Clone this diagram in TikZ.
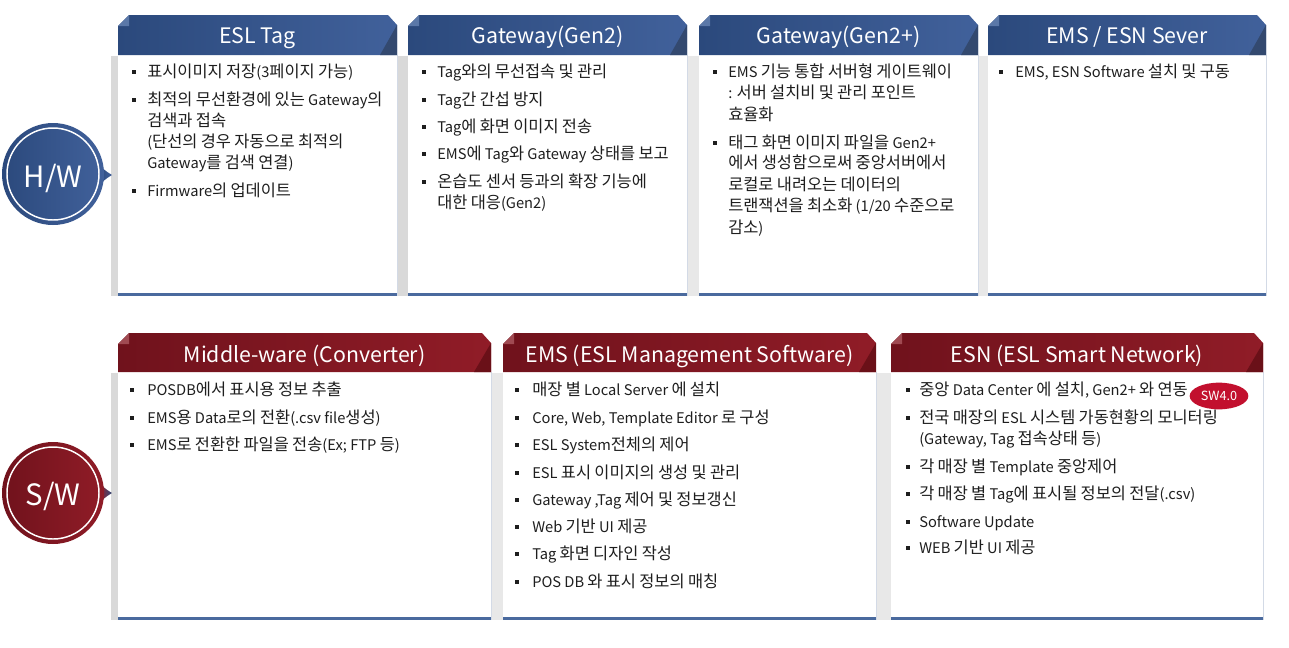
\documentclass[tikz,border=0pt]{standalone}
\usepackage{fontspec}
\setmainfont{Noto Sans CJK KR}
\newfontfamily\hangulfont{Noto Sans CJK KR}[Scale=1.12]
\usetikzlibrary{shapes.geometric}

% wider Hangul, as in the reference
\XeTeXinterchartokenstate=1
\newXeTeXintercharclass\HangulClass
\count255="AC00
\loop
  \XeTeXcharclass\count255=\HangulClass
  \ifnum\count255<"D7A3 \advance\count255 by 1
\repeat
\XeTeXinterchartoks 0 \HangulClass = {\begingroup\hangulfont}
\XeTeXinterchartoks 4095 \HangulClass = {\begingroup\hangulfont}
\XeTeXinterchartoks \HangulClass 0 = {\endgroup}
\XeTeXinterchartoks \HangulClass 4095 = {\endgroup}

\definecolor{blueL}{HTML}{2B497C}
\definecolor{blueR}{HTML}{41619B}
\definecolor{blueD}{HTML}{33496F}
\definecolor{blueC}{HTML}{5B78A8}
\definecolor{redL}{HTML}{70121C}
\definecolor{redR}{HTML}{901C27}
\definecolor{redD}{HTML}{6A1018}
\definecolor{redC}{HTML}{A04A52}
\definecolor{lineblue}{HTML}{4A6A9E}
\definecolor{stripA}{HTML}{D9D9D9}
\definecolor{stripB}{HTML}{E8E8E8}
\definecolor{edgec}{HTML}{D3DAE6}
\definecolor{badgec}{HTML}{C2102E}
\definecolor{txtc}{HTML}{1E1E1E}

\tikzset{
  bulsq/.style={rectangle, fill=txtc, inner sep=0pt, minimum size=3.6pt},
  txt/.style={anchor=base west, inner sep=0pt, text=txtc, font=\fontsize{11pt}{13pt}\selectfont},
  hdrtxt/.style={anchor=base, inner sep=0pt, text=white, font=\fontsize{16pt}{18pt}\selectfont},
  circtxt/.style={anchor=base, inner sep=0pt, text=white, font=\fontsize{22pt}{24pt}\selectfont},
  bigcirc/.style={circle, inner sep=0pt, minimum size=76.5pt},
  badge/.style={ellipse, fill=badgec, inner sep=0pt, minimum width=44pt, minimum height=20pt, text=white, font=\fontsize{9.5pt}{11pt}\selectfont},
}

% panel: name, x1, y1(header top), x2, y2(header bottom), yb(body bottom), scheme, title, title baseline
\newcommand\panelbox[9]{%
  \fill[white] (#2,#5) rectangle (#4,#6);
  \draw[edgec, line width=0.6pt] (#4,#5) -- (#4,#6);
  \fill[lineblue] (#2,#6-3.5) rectangle (#4,#6);
  \shade[left color=#7L, right color=#7R] (#2,#3+11) -- (#2+11,#3) -- (#4-9,#3) -- (#4,#3+10) -- (#4,#5) -- (#2,#5) -- cycle;
  \fill[#7C] (#2,#3+11) -- (#2+11,#3) -- (#2+11,#3+11) -- cycle;
  \fill[#7D] (#4-17,#5) -- (#4,#3+10) -- (#4,#5) -- cycle;
  \node[hdrtxt] (#1) at ({(#2+#4)/2},#9) {#8};
}
% bullet line: name, bullet x, text x, y(center), text
\newcommand\bline[5]{%
  \node[bulsq] (#1b) at (#2,#4) {};
  \node[txt] (#1) at (#3,#4+5.5) {#5};
}
% continuation line: name, text x, y, text
\newcommand\contline[4]{%
  \node[txt] (#1) at (#2,#3+5.5) {#4};
}

\begin{document}
\begin{tikzpicture}[x=0.75pt, y=-0.75pt]
\useasboundingbox (0,0) rectangle (1289,647);
\fill[white] (0,0) rectangle (1289,647);

% ---------- gray strips ----------
\fill[stripA] (111,56) rectangle (118,296);
\fill[stripA] (397,56) rectangle (408,296);
\fill[stripB] (687,56) rectangle (699,296);
\fill[stripB] (978,56) rectangle (988,296);
\fill[stripA] (111,373) rectangle (118,620);
\fill[stripB] (491,373) rectangle (503,620);
\fill[stripB] (876,373) rectangle (891,620);

% ---------- top row panels ----------
\panelbox{p1}{118}{15}{397}{55}{296}{blue}{ESL Tag}{43}
\panelbox{p2}{408}{15}{687}{55}{296}{blue}{Gateway(Gen2)}{43}
\panelbox{p3}{699}{15}{978}{55}{296}{blue}{Gateway(Gen2+)}{43}
\panelbox{p4}{988}{15}{1266}{55}{296}{blue}{EMS / ESN Sever}{43}

% ---------- bottom row panels ----------
\panelbox{q1}{118}{333}{491}{372}{620}{red}{Middle-ware (Converter)}{362}
\panelbox{q2}{503}{333}{876}{372}{620}{red}{EMS (ESL Management Software)}{362}
\panelbox{q3}{891}{333}{1263}{372}{620}{red}{ESN (ESL Smart Network)}{362}

% ---------- circles ----------
\shade[left color=blueL, right color=blueR] (99,163) .. controls (104,170) .. (112,175) .. controls (104,180) .. (99,187) -- cycle;
\node[bigcirc, left color=blueL, right color=blueR] (hw) at (53,174) {};
\draw[white, line width=1.1pt] (hw.center) circle [radius=34.5pt];
\node[circtxt] (hwt) at (53,187) {H/W};

\shade[left color=redR, right color=blueR!80!black] (99,481) .. controls (104,488) .. (112,493) .. controls (104,498) .. (99,505) -- cycle;
\node[bigcirc, left color=redL, right color=redR] (sw) at (53,493) {};
\draw[white, line width=1.1pt] (sw.center) circle [radius=34.5pt];
\node[circtxt] (swt) at (53,505) {S/W};

% ---------- ESL Tag ----------
\bline{a1}{134}{147}{72}{표시이미지 저장(3페이지 가능)}
\bline{a2}{134}{147}{100}{최적의 무선환경에 있는 Gateway의}
\contline{a2c}{147}{121}{검색과 접속}
\contline{a2d}{147}{142}{(단선의 경우 자동으로 최적의}
\contline{a2e}{147}{163}{Gateway를 검색 연결)}
\bline{a3}{134}{147}{191}{Firmware의 업데이트}

% ---------- Gateway(Gen2) ----------
\bline{b1}{424}{437}{72}{Tag와의 무선접속 및 관리}
\bline{b2}{424}{437}{100}{Tag간 간섭 방지}
\bline{b3}{424}{437}{127}{Tag에 화면 이미지 전송}
\bline{b4}{424}{437}{154}{EMS에 Tag와 Gateway 상태를 보고}
\bline{b5}{424}{437}{182}{온습도 센서 등과의 확장 기능에}
\contline{b5c}{437}{203}{대한 대응(Gen2)}

% ---------- Gateway(Gen2+) ----------
\bline{c1}{715}{728}{72}{EMS 기능 통합 서버형 게이트웨이}
\contline{c1c}{728}{93}{: 서버 설치비 및 관리 포인트}
\contline{c1d}{728}{115}{효율화}
\bline{c2}{715}{728}{143}{태그 화면 이미지 파일을 Gen2+}
\contline{c2c}{728}{163}{에서 생성함으로써 중앙서버에서}
\contline{c2d}{728}{185}{로컬로 내려오는 데이터의}
\contline{c2e}{728}{206}{트랜잭션을 최소화 (1/20 수준으로}
\contline{c2f}{728}{228}{감소)}

% ---------- EMS / ESN Sever ----------
\bline{d1}{1001}{1015}{72}{EMS, ESN Software 설치 및 구동}

% ---------- Middle-ware ----------
\bline{e1}{132}{147}{390}{POSDB에서 표시용 정보 추출}
\bline{e2}{132}{147}{418}{EMS용 Data로의 전환(.csv file생성)}
\bline{e3}{132}{147}{445}{EMS로 전환한 파일을 전송(Ex; FTP 등)}

% ---------- EMS ----------
\bline{f1}{517}{532}{390}{매장 별 Local Server 에 설치}
\bline{f2}{517}{532}{418}{Core, Web, Template Editor 로 구성}
\bline{f3}{517}{532}{445}{ESL System전체의 제어}
\bline{f4}{517}{532}{473}{ESL 표시 이미지의 생성 및 관리}
\bline{f5}{517}{532}{500}{Gateway ,Tag 제어 및 정보갱신}
\bline{f6}{517}{532}{527}{Web 기반 UI 제공}
\bline{f7}{517}{532}{554}{Tag 화면 디자인 작성}
\bline{f8}{517}{532}{582}{POS DB 와 표시 정보의 매칭}

% ---------- ESN ----------
\bline{g1}{908}{919}{390}{중앙 Data Center 에 설치, Gen2+ 와 연동}
\bline{g2}{908}{919}{418}{전국 매장의 ESL 시스템 가동현황의 모니터링}
\contline{g2c}{919}{439}{(Gateway, Tag 접속상태 등)}
\bline{g3}{908}{919}{467}{각 매장 별 Template 중앙제어}
\bline{g4}{908}{919}{494}{각 매장 별 Tag에 표시될 정보의 전달(.csv)}
\bline{g5}{908}{919}{522}{Software Update}
\bline{g6}{908}{919}{548}{WEB 기반 UI 제공}

\node[badge] (sw40) at (1219,396) {SW4.0};
\end{tikzpicture}
\end{document}
